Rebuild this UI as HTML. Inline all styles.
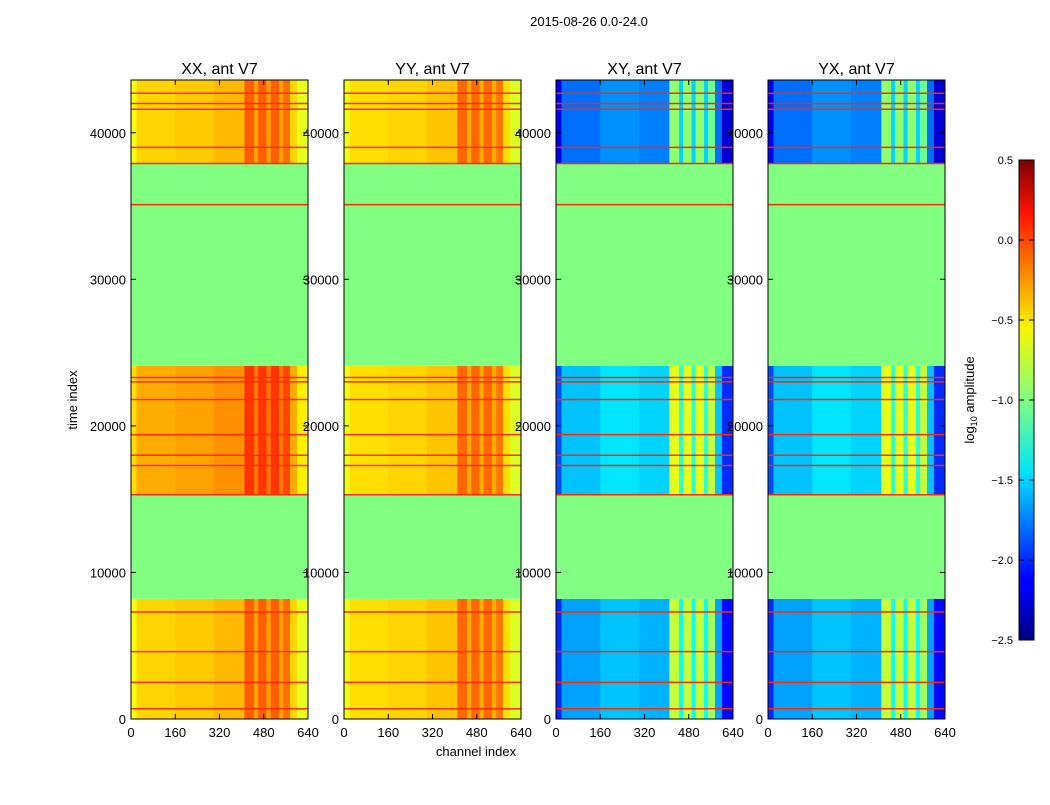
<!DOCTYPE html>
<html><head><meta charset="utf-8">
<style>
body{margin:0;background:#fff;font-family:"Liberation Sans",sans-serif;}
svg text{font-family:"Liberation Sans",sans-serif;}
</style></head>
<body>
<svg id="fig" width="1050" height="800" xmlns="http://www.w3.org/2000/svg">
<defs>
<linearGradient id="jet" x1="0" y1="1" x2="0" y2="0">
<stop offset="0" stop-color="#00007f"/><stop offset="0.11" stop-color="#0000ff"/>
<stop offset="0.125" stop-color="#0000ff"/><stop offset="0.34" stop-color="#00dcff"/>
<stop offset="0.35" stop-color="#00e4f8"/><stop offset="0.5" stop-color="#7fff7f"/>
<stop offset="0.65" stop-color="#f8f500"/><stop offset="0.89" stop-color="#ff1300"/>
<stop offset="1" stop-color="#7f0000"/>
</linearGradient>
</defs>
<text x="589" y="26" text-anchor="middle" font-size="13">2015-08-26 0.0-24.0</text>
<text transform="translate(77,400) rotate(-90)" text-anchor="middle" font-size="13">time index</text>
<text x="476" y="756" text-anchor="middle" font-size="13">channel index</text>
<g id="panels"></g>
<g id="cbar">
<rect x="1019" y="160" width="15" height="480" fill="url(#jet)" stroke="#000" stroke-width="1"/>
</g>
<text transform="translate(974,400) rotate(-90)" text-anchor="middle" font-size="13">log<tspan font-size="9" dy="3">10</tspan><tspan dy="-3"> amplitude</tspan></text>
</svg>
<script>
const panelTitles=["XX, ant V7","YY, ant V7","XY, ant V7","YX, ant V7"];
const panelX=[131,344,556,768];
const timeEdges=[0,8200,15300,24100,35100,37900,43600];
const bandXX=[-0.5,null,-0.38,null,null,-0.5];
const bandYY=[-0.53,null,-0.53,null,null,-0.53];
const bandXY=[-1.65,null,-1.55,null,null,-1.8];
const bandYX=[-1.65,null,-1.55,null,null,-1.8];
const chanEdges=[0,20,160,300,410,445,460,490,505,535,550,575,600,640];
const offPar=[-0.15,0,0.03,0.08,0.35,0.15,0.35,0.15,0.35,0.15,0.3,0.0,-0.2];
const offCross=[-0.35,0,0.1,0.05,0.85,0.3,0.85,0.3,0.85,0.3,0.75,0.0,-0.45];
const redLines=[700,2500,4600,7300,15300,17300,18000,19400,21800,23000,23300,35100,37900,39000,41600,42000,42700];
const yTicks=[0,10000,20000,30000,40000];
const xTicks=[0,160,320,480,640];
const cbTicks=[0.5,0.0,-0.5,-1.0,-1.5,-2.0,-2.5];
const bands=[bandXX,bandYY,bandXY,bandYX];
const offs=[offPar,offPar,offCross,offCross];
const NS="http://www.w3.org/2000/svg";
const W=177,TOP=80,BOT=719,TMAX=43600,CMAX=640;
function ys(t){return BOT-(t/TMAX)*(BOT-TOP);}
function xs(c,x0){return x0+c/CMAX*W;}
function jet(v){let n=(v+2.5)/3;n=Math.max(0,Math.min(1,n));
 const r=Math.max(0,Math.min(1,1.5-Math.abs(4*n-3))),g=Math.max(0,Math.min(1,1.5-Math.abs(4*n-2))),b=Math.max(0,Math.min(1,1.5-Math.abs(4*n-1)));
 return `rgb(${Math.round(r*255)},${Math.round(g*255)},${Math.round(b*255)})`;}
function el(tag,attrs,parent){const e=document.createElementNS(NS,tag);for(const k in attrs)e.setAttribute(k,attrs[k]);parent.appendChild(e);return e;}
const P=document.getElementById('panels');
for(let p=0;p<4;p++){
 const x0=panelX[p];
 const g=el('g',{},P);
 
 
 for(let b=0;b<timeEdges.length-1;b++){
  const y1=ys(timeEdges[b+1]),y0=ys(timeEdges[b]);
  const base=bands[p][b];
  if(base===null){
   const r=el('rect',{x:x0,y:y1,width:W,height:y0-y1,fill:jet(-1.0)},g);
   
   
   continue;}
  for(let c=0;c<chanEdges.length-1;c++){
   const xa=xs(chanEdges[c],x0),xb=xs(chanEdges[c+1],x0);
   const r=el('rect',{x:xa,y:y1,width:xb-xa+0.3,height:y0-y1+0.3,fill:jet(base+offs[p][c])},g);
   
   }
 }
 for(const t of redLines){
  const l=el('line',{x1:x0,x2:x0+W,y1:ys(t),y2:ys(t),stroke:'#ff2a00','stroke-width':1.5},g);
  
  }
 const fr=el('rect',{x:x0,y:TOP,width:W,height:BOT-TOP,fill:'none',stroke:'#000','stroke-width':1},g);
 
 
 const tt=el('text',{x:x0+W/2,y:74,'text-anchor':'middle','font-size':16},g);tt.textContent=panelTitles[p];
 
 
 for(const t of yTicks){const y=ys(t);
  el('line',{x1:x0,x2:x0+5,y1:y,y2:y,stroke:'#000'},g);el('line',{x1:x0+W-5,x2:x0+W,y1:y,y2:y,stroke:'#000'},g);
  const tx=el('text',{x:x0-5,y:y+5,'text-anchor':'end','font-size':13},g);tx.textContent=t;
  
  }
 for(const c of xTicks){const x=xs(c,x0);
  el('line',{x1:x,x2:x,y1:BOT,y2:BOT-5,stroke:'#000'},g);el('line',{x1:x,x2:x,y1:TOP,y2:TOP+5,stroke:'#000'},g);
  const tx=el('text',{x:x,y:737,'text-anchor':'middle','font-size':13},g);tx.textContent=c;
  
  }
}
const CB=document.getElementById('cbar');
for(const v of cbTicks){const y=640-(v+2.5)/3*480;
 el('line',{x1:1019,x2:1024,y1:y,y2:y,stroke:'#000'},CB);
 el('line',{x1:1029,x2:1034,y1:y,y2:y,stroke:'#000'},CB);
 const tx=el('text',{x:1013,y:y+4,'text-anchor':'end','font-size':11},CB);tx.textContent=(v<0?'\u2212':'')+Math.abs(v).toFixed(1);
 
 }
</script>
</body></html>
